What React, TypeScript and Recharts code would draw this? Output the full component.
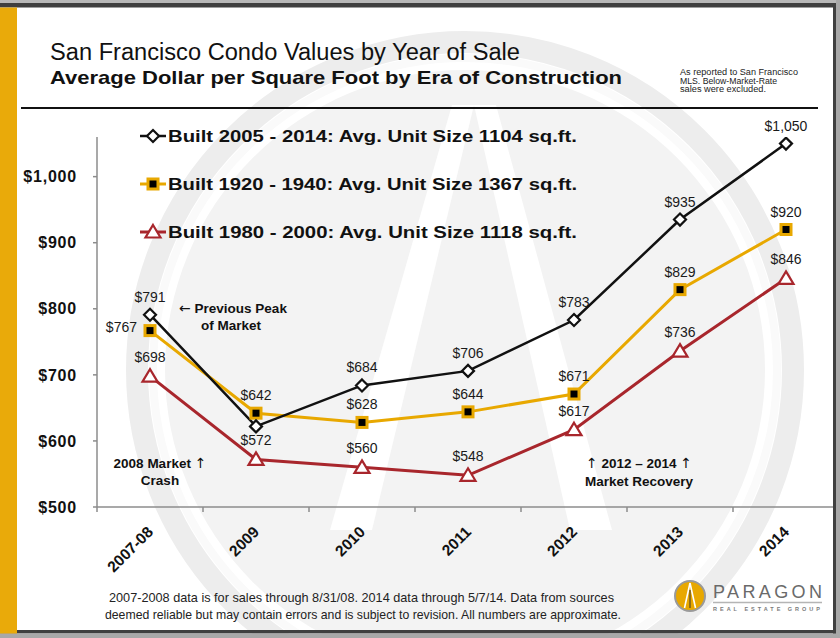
import React from "react";
import { LineChart, Line, XAxis, YAxis, LabelList } from "recharts";

// Year of sale
const categories = ["2007-08", "2009", "2010", "2011", "2012", "2013", "2014"];
// Average $/sq.ft. by era of construction
const built2005to2014 = [791, 622, 684, 706, 783, 935, 1050];
const built1920to1940 = [767, 642, 628, 644, 671, 829, 920];
const built1980to2000 = [698, 572, 560, 548, 617, 736, 846];
const yTicks = [500, 600, 700, 800, 900, 1000];
const seriesNames = [
  "Built 2005 - 2014: Avg. Unit Size 1104 sq.ft.",
  "Built 1920 - 1940: Avg. Unit Size 1367 sq.ft.",
  "Built 1980 - 2000: Avg. Unit Size 1118 sq.ft.",
];

const BLACK = "#111111";
const GOLD = "#E8A800";
const RED = "#A8262C";
const AXIS = "#8c8c8c";
const FONT = "'Liberation Sans', Arial, Helvetica, sans-serif";
const ARROW_FONT = "'DejaVu Sans', sans-serif";

const centerTicks = categories.map((_, i) => i);
const boundaryTicks = categories.slice(0, -1).map((_, i) => i - 0.5).concat([categories.length - 1.5]);

const Diamond = ({ cx, cy }: { cx: number; cy: number }) => (
  <polygon
    points={`${cx},${cy - 6} ${cx + 6},${cy} ${cx},${cy + 6} ${cx - 6},${cy}`}
    fill="#fff"
    stroke={BLACK}
    strokeWidth={2.2}
  />
);

const GoldSquare = ({ cx, cy }: { cx: number; cy: number }) => (
  <g>
    <rect x={cx - 6.5} y={cy - 6.5} width={13} height={13} fill={GOLD} />
    <rect x={cx - 3.5} y={cy - 3.5} width={7} height={7} fill="#000" />
  </g>
);

const Triangle = ({ cx, cy }: { cx: number; cy: number }) => (
  <polygon
    points={`${cx},${cy - 7} ${cx + 7.5},${cy + 5.5} ${cx - 7.5},${cy + 5.5}`}
    fill="#fff"
    stroke={RED}
    strokeWidth={2.2}
    strokeLinejoin="miter"
  />
);

const valueText = (v: number) => `$${v.toLocaleString("en-US")}`;

const makeLabel =
  (opts: { skip?: number[]; left?: number[]; dy: number }) =>
  (props: any) => {
    const { x, y, value, index } = props;
    if (opts.skip && opts.skip.includes(index)) return null;
    const isLeft = opts.left && opts.left.includes(index);
    return (
      <text
        key={`lbl-${index}`}
        x={isLeft ? x - 13 : x}
        y={isLeft ? y + 1 : y + opts.dy}
        textAnchor={isLeft ? "end" : "middle"}
        fontFamily={FONT}
        fontSize={14}
        fill="#1a1a1a"
      >
        {valueText(value)}
      </text>
    );
  };

const CategoryTick = (props: any) => {
  const { x, y, payload } = props;
  const label = categories[payload.value];
  const ox = x + 4;
  const oy = y + 17;
  return (
    <text
      x={ox}
      y={oy}
      textAnchor="end"
      transform={`rotate(-45, ${ox}, ${oy})`}
      fontFamily={FONT}
      fontWeight="bold"
      fontSize={15.5}
      fill="#111"
    >
      {label}
    </text>
  );
};

const EmptyTick = () => <g />;

const Arrow = ({ ch }: { ch: string }) => (
  <tspan fontFamily={ARROW_FONT} fontWeight="normal" fontSize={14}>
    {ch}
  </tspan>
);

export default function App() {
  const rows = categories.map((c, i) => ({
    idx: i,
    cat: c,
    b2005: built2005to2014[i],
    b1920: built1920to1940[i],
    b1980: built1980to2000[i],
  }));

  const legendRows = [
    { name: seriesNames[0], color: BLACK, Marker: Diamond, width: 2.5 },
    { name: seriesNames[1], color: GOLD, Marker: GoldSquare, width: 3 },
    { name: seriesNames[2], color: RED, Marker: Triangle, width: 3 },
  ];

  return (
    <div
      style={{
        position: "absolute",
        left: 0,
        top: 0,
        width: 840,
        height: 638,
        background: "#ffffff",
        overflow: "hidden",
        fontFamily: FONT,
      }}
    >
      {/* faint logo watermark behind the plot */}
      <svg style={{ position: "absolute", left: 0, top: 0 }} width={840} height={638}>
        <circle cx={465} cy={370} r={300} fill="#f3f3f3" />
        <circle cx={465} cy={370} r={312} fill="none" stroke="#fafafa" strokeWidth={8} />
        <circle cx={465} cy={370} r={328} fill="none" stroke="#ededed" strokeWidth={22} />
        <polygon points="452,105 474,105 372,530 330,530" fill="#ffffff" />
        <polygon points="474,105 496,105 612,530 570,530" fill="#ffffff" />
      </svg>

      <div style={{ position: "absolute", left: 0, top: 0 }}>
        <LineChart width={840} height={638} data={rows} margin={{ top: 137, right: 1, bottom: 0, left: 0 }}>
          <XAxis
            xAxisId="bounds"
            type="number"
            dataKey="idx"
            domain={[-0.5, categories.length - 0.5]}
            ticks={boundaryTicks}
            allowDataOverflow
            height={1}
            interval={0}
            tick={EmptyTick}
            tickSize={5}
            tickLine={{ stroke: AXIS, strokeWidth: 1.5 }}
            axisLine={{ stroke: AXIS, strokeWidth: 1.5 }}
          />
          <XAxis
            xAxisId="cat"
            type="number"
            dataKey="idx"
            domain={[-0.5, categories.length - 0.5]}
            ticks={centerTicks}
            allowDataOverflow
            height={130}
            interval={0}
            axisLine={false}
            tickLine={false}
            tick={<CategoryTick />}
          />
          <YAxis
            type="number"
            domain={[500, 1060]}
            ticks={yTicks}
            allowDataOverflow
            width={97}
            interval={0}
            tickFormatter={valueText}
            tickSize={4}
            tickMargin={16}
            tickLine={{ stroke: AXIS, strokeWidth: 1.5 }}
            axisLine={{ stroke: AXIS, strokeWidth: 1.5 }}
            tick={{ fontFamily: FONT, fontWeight: "bold", fontSize: 16, fill: "#111", letterSpacing: 0.8 }}
          />
          <Line
            xAxisId="cat"
            dataKey="b1980"
            stroke={RED}
            strokeWidth={3}
            isAnimationActive={false}
            dot={(p: any) => <Triangle key={`t-${p.index}`} cx={p.cx} cy={p.cy} />}
          >
            <LabelList dataKey="b1980" content={makeLabel({ dy: -14 })} />
          </Line>
          <Line
            xAxisId="cat"
            dataKey="b1920"
            stroke={GOLD}
            strokeWidth={3}
            isAnimationActive={false}
            dot={(p: any) => <GoldSquare key={`s-${p.index}`} cx={p.cx} cy={p.cy} />}
          >
            <LabelList dataKey="b1920" content={makeLabel({ dy: -13, left: [0] })} />
          </Line>
          <Line
            xAxisId="cat"
            dataKey="b2005"
            stroke={BLACK}
            strokeWidth={2.5}
            isAnimationActive={false}
            dot={(p: any) => <Diamond key={`d-${p.index}`} cx={p.cx} cy={p.cy} />}
          >
            <LabelList dataKey="b2005" content={makeLabel({ dy: -13, skip: [1] })} />
          </Line>
        </LineChart>
      </div>

      {/* titles, legend, notes, frame */}
      <svg style={{ position: "absolute", left: 0, top: 0, pointerEvents: "none" }} width={840} height={638}>
        <text x={50} y={60} fontFamily={FONT} fontSize={23.5} fill="#111" textLength={470} lengthAdjust="spacingAndGlyphs">
          San Francisco Condo Values by Year of Sale
        </text>
        <text x={50} y={84} fontFamily={FONT} fontSize={18.5} fontWeight="bold" fill="#111" textLength={572} lengthAdjust="spacingAndGlyphs">
          Average Dollar per Square Foot by Era of Construction
        </text>
        <g fontFamily={FONT} fontSize={8.3} fill="#222">
          <text x={680} y={75} textLength={118} lengthAdjust="spacingAndGlyphs">As reported to San Francisco</text>
          <text x={680} y={83.5} textLength={97} lengthAdjust="spacingAndGlyphs">MLS. Below-Market-Rate</text>
          <text x={680} y={92} textLength={86} lengthAdjust="spacingAndGlyphs">sales were excluded.</text>
        </g>
        <line x1={21} x2={818} y1={108} y2={108} stroke="#111" strokeWidth={2} />

        {legendRows.map((r, i) => {
          const cy = 136 + i * 48;
          const M = r.Marker;
          return (
            <g key={r.name}>
              <line x1={140} x2={166} y1={cy} y2={cy} stroke={r.color} strokeWidth={r.width} />
              <M cx={153} cy={cy} />
              <text
                x={168}
                y={cy + 6}
                fontFamily={FONT}
                fontSize={17}
                fontWeight="bold"
                fill="#111"
                textLength={409}
                lengthAdjust="spacingAndGlyphs"
              >
                {r.name}
              </text>
            </g>
          );
        })}

        <g fontFamily={FONT} fontSize={13.5} fontWeight="bold" fill="#111" textAnchor="middle">
          <text x={233} y={313}>
            <Arrow ch="←" /> Previous Peak
          </text>
          <text x={231} y={330}>of Market</text>
          <text x={160} y={468}>
            2008 Market <Arrow ch="↑" />
          </text>
          <text x={160} y={485}>Crash</text>
          <text x={639} y={468}>
            <Arrow ch="↑" /> 2012 – 2014 <Arrow ch="↑" />
          </text>
          <text x={639} y={486}>Market Recovery</text>
        </g>

        <g fontFamily={FONT} fontSize={13} fill="#222">
          <text x={109} y={602} textLength={505} lengthAdjust="spacingAndGlyphs">
            2007-2008 data is for sales through 8/31/08. 2014 data through 5/7/14. Data from sources
          </text>
          <text x={105} y={619} textLength={516} lengthAdjust="spacingAndGlyphs">
            deemed reliable but may contain errors and is subject to revision. All numbers are approximate.
          </text>
        </g>

        {/* company mark */}
        <circle cx={690} cy={596} r={15} fill={GOLD} stroke="#9a9a9a" strokeWidth={2} />
        <path d="M690 583 L684.5 608 M690 583 L695.5 608" stroke="#fff" strokeWidth={1.6} fill="none" />
        <line x1={690} x2={690} y1={590} y2={608} stroke="#333" strokeWidth={1} />
        <text x={713} y={598} fontFamily={FONT} fontSize={18} fill="#6a6a6a" textLength={109} lengthAdjust="spacing">
          PARAGON
        </text>
        <line x1={713} x2={822} y1={602.5} y2={602.5} stroke="#b5b5b5" strokeWidth={1.5} />
        <text x={713} y={610.5} fontFamily={FONT} fontSize={5.5} fontWeight="bold" fill="#7a7a7a" textLength={107} lengthAdjust="spacing">
          REAL ESTATE GROUP
        </text>

        {/* slide frame */}
        <rect x={0} y={0} width={840} height={3} fill="#b8b8b8" />
        <rect x={0} y={3} width={840} height={4.5} fill="#3f3f3f" />
        <rect x={833} y={3} width={3} height={631} fill="#3f3f3f" />
        <rect x={836} y={0} width={4} height={638} fill="#a8a8a8" />
        <rect x={0} y={630} width={836} height={3.5} fill="#3f3f3f" />
        <rect x={0} y={633.5} width={840} height={4.5} fill="#a8a8a8" />
        <rect x={0} y={7.5} width={17} height={626} fill="#E9AA0A" />
      </svg>
    </div>
  );
}
